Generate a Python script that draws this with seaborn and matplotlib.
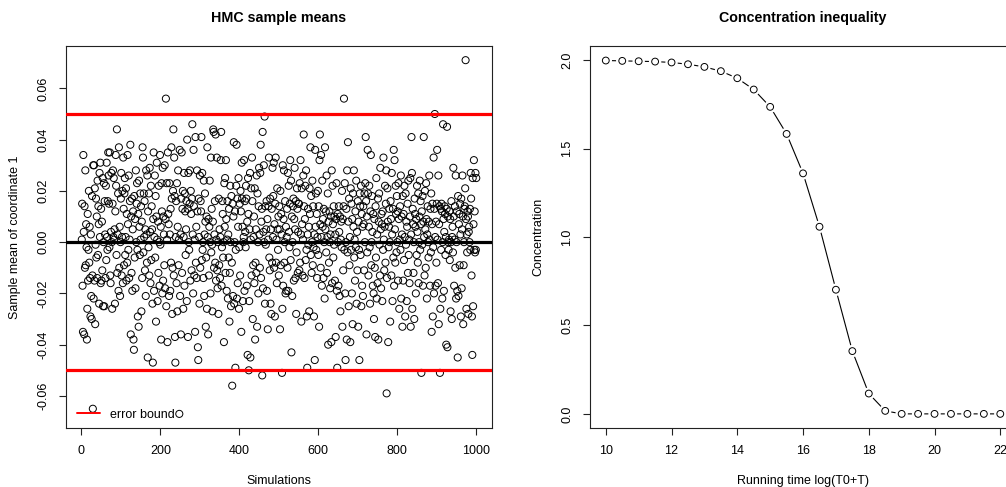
"""HMC 표본평균 산점도와 집중 부등식 곡선을 나란히 그린다 (R base graphics 느낌)."""

import matplotlib

matplotlib.use("Agg")

import matplotlib.pyplot as plt
from matplotlib.lines import Line2D
import numpy as np
import seaborn as sns


# 왼쪽: 시뮬레이션별 좌표 1의 표본평균 (단위 1e-3, 그림에서 눈으로 읽은 값)
SAMPLE_MEANS_MILLI = [
    1, 15, -17, -35, 34, 4, -36, 14, -10, 28,
    -9, 7, -2, -38, -26, 11, -15, -3, 20, -8,
    6, -14, -29, 3, -21, -30, 18, -13, -65, 30,
    -22, 30, -15, 21, -32, -1, 17, -6, 10, -14,
    24, -5, 14, 7, -24, 27, 2, 31, -16, 13,
    -15, 8, -11, 25, -25, 0, 23, -25, 16, 3,
    -14, 22, -7, 31, 2, -3, 16, 35, 26, 15,
    -2, 35, -13, -16, 4, 27, 0, -26, 15, 28,
    2, 25, 1, 5, -24, 12, 34, 22, -5, 44,
    -12, 3, 19, -19, 37, -10, 6, -21, 0, 17,
    27, -13, 2, 20, -16, 33, 13, -9, 19, 25,
    -5, 2, 21, -15, 11, -8, 34, 7, -3, 26,
    -14, 1, 16, 38, -36, 10, -12, 17, -19, 5,
    12, -38, -42, 18, -6, 9, -18, 28, 0, 15,
    23, -3, -29, 11, -33, 24, 6, -5, 19, 1,
    14, -27, 8, -14, 37, 33, -4, 19, 2, 16,
    -11, 5, -21, 28, 3, -8, 26, -45, 12, -2,
    19, -13, 29, 4, -16, 22, -7, 14, 5, -24,
    -47, 9, 35, -19, 2, 26, -6, 18, -31, 10,
    31, 1, -23, 8, -12, 22, 0, -17, 34, -1,
    6, -38, 23, 12, -20, 29, -15, 10, 3, -9,
    30, -18, 9, 56, -25, 23, 1, -39, 35, 11,
    7, -21, 23, 3, -19, 13, -8, 37, 17, -28,
    -10, 20, 44, -13, 33, 18, -37, -47, 2, 16,
    -16, 23, -27, 6, 28, -9, 1, -67, 36, -21,
    3, -36, 17, 35, -12, 13, 20, -26, 2, 27,
    -17, 19, 12, -5, 5, 16, -23, 40, 13, -37,
    27, 0, -3, 15, 28, -15, 20, 11, -11, 17,
    46, 3, -20, 36, 14, -13, 1, -35, 41, -8,
    6, -14, 28, 12, -41, -46, 17, 2, -24, 26,
    -10, 16, 12, 41, -7, 27, -3, 0, -14, 24,
    -21, 3, 19, 8, -33, -6, 10, -26, 37, 2,
    -36, 9, -13, 6, 24, 0, -20, 33, -4, 13,
    -1, -27, 8, 44, 43, -10, 3, 16, -8, 42,
    -15, 1, 33, -11, -18, 0, -28, 17, -9, 5,
    -14, 2, 32, 43, -17, -2, 16, 11, -6, 0,
    -39, 23, 6, 25, -12, 32, 9, -19, 1, 16,
    -22, 3, -6, 13, -31, -12, 22, 0, -25, 18,
    -8, -56, 15, -21, 10, 39, -24, 0, 12, -49,
    -3, 22, 38, -22, 17, -16, 6, 25, -26, -2,
    15, -13, 20, 12, -35, 31, 17, 6, -23, 0,
    2, 32, -19, 16, 4, -2, 22, 17, -17, 8,
    -44, 25, 11, -50, -23, 5, 27, -45, 1, 21,
    -13, 33, 16, -30, -9, 2, 10, -16, 21, -38,
    -8, 5, -12, 26, -33, 19, 0, -20, 14, 29,
    3, -10, 27, 38, -14, 8, 13, -52, 43, -18,
    4, 30, 0, 49, -24, 14, -1, 5, 16, -19,
    9, -34, 1, 14, 33, -6, -11, 17, -24, 5,
    -28, 13, -8, 29, 2, 18, 31, -10, 7, -29,
    15, 33, -8, 1, -16, 21, 5, -3, 10, -13,
    14, 5, -34, 20, -9, 11, 3, -51, -26, 30,
    -17, 9, 28, -8, 0, 16, -20, 6, -19, 2,
    13, -10, 27, -19, 22, 4, -2, 15, 32, -7,
    24, -43, 10, -21, 0, 14, 17, -15, 9, 29,
    5, -14, 16, -28, -4, 21, 13, -12, 4, 15,
    15, -11, 23, -8, 32, 3, -31, 21, 7, -13,
    1, 26, 42, 14, -14, 9, 22, -7, 28, -3,
    -29, -49, 3, 13, -1, 6, -27, 21, 11, 37,
    -5, 18, -12, 0, 24, -9, 14, -2, -29, 3,
    -46, 36, 6, 19, -3, 11, -14, 2, 20, -5,
    14, -33, 32, 42, 7, -10, 34, 2, -17, 24,
    6, 9, -14, 13, 0, -22, 37, 5, 12, -4,
    26, -12, 2, 19, -40, 8, -8, 12, 0, -18,
    3, 10, -39, 28, -16, 22, 7, -6, 14, -1,
    10, -15, 3, -37, 9, 23, -19, -49, 11, 0,
    -17, 14, 4, -21, 10, -27, 1, 8, -2, 20,
    -33, 9, -11, 14, 56, -3, 23, -20, -46, 0,
    13, -38, 28, -4, 39, 8, -25, 17, -9, 2,
    -39, 21, -3, 15, -20, 9, -32, 19, 6, 28,
    -6, 1, -15, 12, -2, 24, -24, 4, -11, 16,
    -33, 8, -3, -46, 19, 14, -5, 22, -25, 11,
    -17, 6, -21, 14, 7, -11, 19, 0, 23, 41,
    16, -36, 10, -4, 36, 19, -13, 6, 22, -2,
    -24, 12, 34, -9, 0, 18, 4, -17, 11, -20,
    -30, 9, -10, -37, 14, -6, 25, -22, 3, -16,
    17, -38, 8, 19, -1, -13, 29, 5, -18, 11,
    7, -23, 12, -3, 33, 1, -11, 6, 22, -8,
    15, 28, -59, -14, 21, 8, -39, -2, 6, 13,
    0, -31, 16, 9, -13, 27, 3, -23, 13, -6,
    36, -17, 32, 5, -8, 22, 11, -4, 18, 0,
    12, -15, 23, 9, -26, 1, 14, -3, 26, -22,
    10, 3, -33, 18, -15, 11, -7, 22, 2, -29,
    19, -1, 8, -23, 6, 15, -12, 24, -5, 1,
    -16, 10, 25, -33, 3, 41, 27, -26, 13, 7,
    -12, 0, -30, 17, 11, 6, -20, 9, -5, 22,
    4, -8, 19, -16, 0, 10, 24, -3, 16, 7,
    -51, 12, -1, 18, -17, 8, 41, 2, -13, 20,
    5, -10, 23, 9, -22, 3, 14, 0, -6, 8,
    26, 1, -17, 13, -4, 19, -35, 7, 15, -29,
    -2, 33, -20, 13, 50, 2, -17, 8, -8, 15,
    36, 1, -16, 26, -32, 7, 14, -51, -26, 13,
    -3, 15, 12, -22, 0, 46, 9, -19, 4, 14,
    11, -5, 2, -40, 13, 45, -41, 10, 0, -3,
    1, 12, -7, 9, -27, 0, 16, -30, 2, 6,
    -4, 29, 10, -17, 1, 14, -10, 26, -22, 0,
    12, -19, -45, 18, -21, 7, 11, -9, 15, 3,
    -29, 17, -18, 5, 26, 10, -32, -9, 0, 13,
    14, 21, 71, 9, -26, 3, -4, 12, 10, -28,
    4, 6, 0, 13, -3, 27, 17, -13, -29, -44,
    25, -25, 7, 32, -3, 12, -4, 27, -3, 25,
]
ERROR_BOUND = 0.05
SIM_TICKS = [0, 200, 400, 600, 800, 1000]
MEAN_TICKS = [-0.06, -0.04, -0.02, 0.00, 0.02, 0.04, 0.06]

# 오른쪽: log(T0+T) 에 따른 집중 부등식 값
LOG_RUNNING_TIME = [10.0, 10.5, 11.0, 11.5, 12.0, 12.5, 13.0, 13.5, 14.0, 14.5, 15.0, 15.5, 16.0,
                    16.5, 17.0, 17.5, 18.0, 18.5, 19.0, 19.5, 20.0, 20.5, 21.0, 21.5, 22.0]
CONCENTRATION = [1.998, 1.996, 1.994, 1.992, 1.987, 1.977, 1.962, 1.938, 1.898, 1.834, 1.736,
                 1.583, 1.360, 1.058, 0.702, 0.355, 0.115, 0.017, 0.0, 0.0, 0.0, 0.0, 0.0, 0.0, 0.0]
TIME_TICKS = [10, 12, 14, 16, 18, 20, 22]
CONC_TICKS = [0.0, 0.5, 1.0, 1.5, 2.0]

FONT = ["Liberation Sans", "DejaVu Sans"]


def r_like_axis(axis) -> None:
    """R 기본 그래픽처럼 네 변 테두리와 바깥쪽 눈금을 만든다."""
    for spine in axis.spines.values():
        spine.set_visible(True)
        spine.set_linewidth(0.8)
        spine.set_color("#222222")
    axis.tick_params(direction="out", length=5, width=0.8, pad=7, labelsize=9, colors="#222222")
    axis.tick_params(axis="x", labelcolor="black")
    axis.tick_params(axis="y", labelrotation=90, labelcolor="black")
    for label in axis.get_yticklabels():
        label.set_verticalalignment("center")


def draw_sample_means(axis) -> None:
    sample_means = np.array(SAMPLE_MEANS_MILLI) / 1000.0
    sim_index = np.arange(1, len(sample_means) + 1)

    sns.scatterplot(x=sim_index, y=sample_means, ax=axis, marker="o", s=26,
                    facecolor="none", edgecolor="black", linewidth=0.7, zorder=2)
    axis.axhline(ERROR_BOUND, color="red", lw=2.3, zorder=3)
    axis.axhline(-ERROR_BOUND, color="red", lw=2.3, zorder=3)
    axis.axhline(0.0, color="black", lw=2.3, zorder=3)

    span = sample_means.max() - sample_means.min()
    axis.set_ylim(sample_means.min() - 0.04 * span, sample_means.max() + 0.04 * span)
    axis.set_xlim(1 - 0.04 * 999, 1000 + 0.04 * 999)
    axis.set_xticks(SIM_TICKS)
    axis.set_yticks(MEAN_TICKS)
    axis.set_yticklabels([f"{tick:.2f}" for tick in MEAN_TICKS])
    axis.set_title("HMC sample means", fontsize=10.3, fontweight="bold", pad=17, color="black")
    axis.set_xlabel("Simulations", fontsize=9, labelpad=13, color="black")
    axis.set_ylabel("Sample mean of coordinate 1", fontsize=9, labelpad=12, color="black")

    # 범례 선은 본문 경계선보다 가늘다
    handle = Line2D([], [], color="red", lw=1.4)
    axis.legend([handle], ["error bound"], loc="lower left", frameon=False, fontsize=9,
                handlelength=1.85, handletextpad=0.8, bbox_to_anchor=(0.0, -0.01),
                labelcolor="black")
    r_like_axis(axis)


def draw_concentration(axis) -> None:
    # type="b" 처럼 선이 점에 닿지 않도록 흰 원을 먼저 깔고 빈 원을 그린다.
    sns.lineplot(x=LOG_RUNNING_TIME, y=CONCENTRATION, ax=axis, color="black", lw=0.8, zorder=1)
    sns.scatterplot(x=LOG_RUNNING_TIME, y=CONCENTRATION, ax=axis, marker="o", s=80,
                    color="white", edgecolor="none", linewidth=0, zorder=2)
    sns.scatterplot(x=LOG_RUNNING_TIME, y=CONCENTRATION, ax=axis, marker="o", s=24,
                    facecolor="none", edgecolor="black", linewidth=0.7, zorder=3)

    axis.set_xlim(10 - 0.04 * 12, 22 + 0.04 * 12)
    axis.set_ylim(-0.08, 2.08)
    axis.set_xticks(TIME_TICKS)
    axis.set_yticks(CONC_TICKS)
    axis.set_yticklabels([f"{tick:.1f}" for tick in CONC_TICKS])
    axis.set_title("Concentration inequality", fontsize=10.3, fontweight="bold", pad=17,
                   color="black")
    axis.set_xlabel("Running time log(T0+T)", fontsize=9, labelpad=13, color="black")
    axis.set_ylabel("Concentration", fontsize=9, labelpad=12, color="black")
    r_like_axis(axis)


def main() -> None:
    sns.set_theme(style="ticks")
    plt.rcParams["font.family"] = FONT
    plt.rcParams["axes.unicode_minus"] = False

    figure = plt.figure(figsize=(10.06, 4.87), dpi=100)
    left_axis = figure.add_axes([0.0656, 0.1211, 0.4235, 0.7844])
    right_axis = figure.add_axes([0.5865, 0.1211, 0.4235, 0.7844])

    draw_sample_means(left_axis)
    draw_concentration(right_axis)

    figure.savefig("out.png", dpi=100)
    plt.close(figure)


if __name__ == "__main__":
    main()
